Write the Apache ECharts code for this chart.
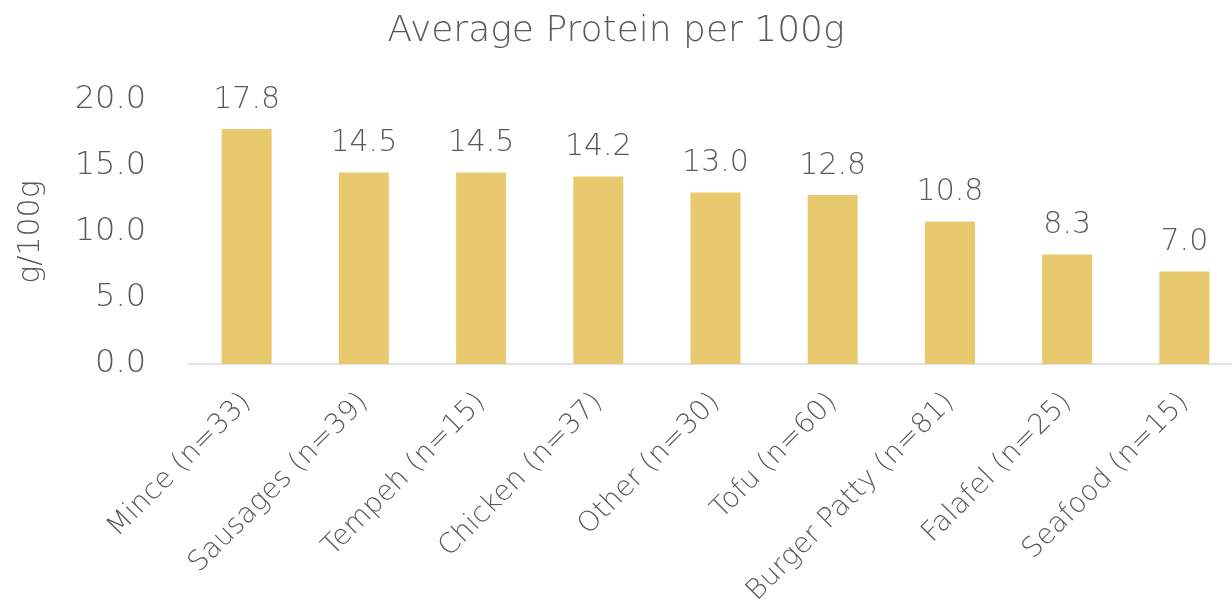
<!DOCTYPE html>
<html>
<head>
<meta charset="utf-8">
<script src="https://cdn.jsdelivr.net/npm/echarts@6/dist/echarts.min.js"></script>
<style>html,body{margin:0;padding:0;background:#fff;}#c{width:1232px;height:601px;}</style>
</head>
<body>
<div id="c"></div>
<script>
const categories = ["Mince (n=33)","Sausages (n=39)","Tempeh (n=15)","Chicken (n=37)","Other (n=30)","Tofu (n=60)","Burger Patty (n=81)","Falafel (n=25)","Seafood (n=15)"];
const protein = [17.8, 14.5, 14.5, 14.2, 13.0, 12.8, 10.8, 8.3, 7.0];
const yTicks = [0, 5, 10, 15, 20];

const FONT = "'DejaVu Sans', sans-serif";
const W = 200;
const TXT = "#595959";
const chart = echarts.init(document.getElementById('c'));
chart.setOption({
  animation: false,
  title: {
    text: "Average Protein per 100g",
    left: 'center', top: 9,
    textStyle: {fontFamily: FONT, fontWeight: W, fontSize: 36, color: TXT}
  },
  grid: {left: 188, top: 100, width: 1055, height: 264, outerBoundsMode: 'none', containLabel: false},
  xAxis: {
    type: 'category',
    data: categories,
    axisLine: {lineStyle: {color: '#d9d9d9', width: 1.5}},
    axisTick: {show: false},
    axisLabel: {rotate: 45, interval: 0, fontFamily: FONT, fontWeight: W, fontSize: 28, color: TXT, margin: 34}
  },
  yAxis: {
    type: 'value', min: yTicks[0], max: yTicks[yTicks.length-1], interval: 5,
    name: 'g/100g', nameLocation: 'middle', nameGap: 142, nameRotate: 90,
    nameTextStyle: {fontFamily: FONT, fontWeight: W, fontSize: 30, color: TXT},
    axisLine: {show: false}, axisTick: {show: false},
    splitLine: {show: false},
    axisLabel: {formatter: v => v.toFixed(1), fontFamily: FONT, fontWeight: W, fontSize: 32, color: TXT, margin: 42}
  },
  series: [{
    type: 'bar',
    data: protein,
    barWidth: 50,
    itemStyle: {color: '#E9C96E'},
    label: {show: true, position: 'top', distance: 14, formatter: p => p.value.toFixed(1), fontFamily: FONT, fontWeight: W, fontSize: 30, color: TXT}
  }]
});
</script>
</body>
</html>
